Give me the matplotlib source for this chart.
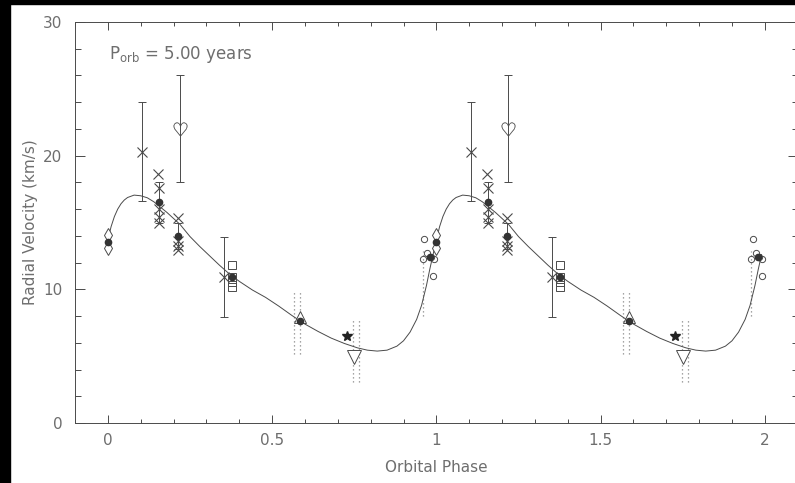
import matplotlib
matplotlib.use("Agg")
import matplotlib.pyplot as plt
from matplotlib.patches import Rectangle
from matplotlib.ticker import MultipleLocator

# orbit fit, one cycle (phase, km/s)
fit_phase = [0.00, 0.01, 0.02, 0.03, 0.04, 0.05, 0.06, 0.08, 0.10, 0.12,
             0.14, 0.16, 0.18, 0.20, 0.22, 0.25, 0.28, 0.31, 0.34, 0.37,
             0.40, 0.44, 0.48, 0.52, 0.56, 0.60, 0.64, 0.68, 0.72, 0.76,
             0.79, 0.82, 0.85, 0.88, 0.90, 0.92, 0.94, 0.955, 0.97, 0.98,
             0.99, 1.00]
fit_rv = [13.7, 14.7, 15.45, 16.0, 16.4, 16.68, 16.87, 17.05, 17.0, 16.85,
          16.55, 16.15, 15.75, 15.3, 14.85, 13.95, 13.2, 12.5, 11.8, 11.15,
          10.6, 9.95, 9.4, 8.75, 8.05, 7.4, 6.85, 6.35, 5.95, 5.62,
          5.45, 5.38, 5.45, 5.75, 6.15, 6.8, 7.75, 8.8, 10.3, 11.5,
          12.6, 13.7]

# observations by instrument
cross_phase = [0.104, 0.153, 0.156, 0.156, 0.156, 0.156, 0.214, 0.214, 0.214, 0.214, 0.353]
cross_rv = [20.3, 18.6, 17.6, 16.0, 15.4, 15.0, 15.3, 13.6, 13.25, 12.95, 10.95]
cross_err = [3.7, 0, 0, 0, 0, 0, 0, 0, 0, 0, 3.0]

heart_phase = [0.219]
heart_rv = [22.0]
heart_err = [4.0]

diamond_phase = [0.0, 0.0]
diamond_rv = [14.06, 13.06]

square_phase = [0.377, 0.377, 0.377, 0.377]
square_rv = [11.8, 10.95, 10.55, 10.2]

tri_up_phase = [0.586]
tri_up_rv = [7.9]

tri_down_phase = [0.750]
tri_down_rv = [4.96]

star_phase = [0.728]
star_rv = [6.5]

circle_phase = [0.963, 0.972, 0.958, 0.983, 0.992, 0.990]
circle_rv = [13.8, 12.7, 12.3, 12.4, 12.25, 11.0]

# binned means
mean_phase = [0.0, 0.156, 0.214, 0.377, 0.586, 0.980]
mean_rv = [13.56, 16.5, 14.0, 10.95, 7.65, 12.4]
mean_err = [0, 1.5, 1.0, 0, 0, 0]

# dotted velocity ranges (phase, low, high)
range_phase = [0.567, 0.586, 0.747, 0.765, 0.958]
range_lo = [5.15, 5.15, 3.1, 3.1, 8.0]
range_hi = [9.95, 9.95, 7.8, 7.8, 12.9]

ink = "#4a4a4a"
txt = "#6e6e6e"
plt.rcParams["font.family"] = ["DejaVu Sans"]

fig = plt.figure(figsize=(7.95, 4.83), dpi=100)
ax = fig.add_axes([75 / 795, 1 - 423 / 483, 722.7 / 795, 401 / 483])


def two_cycles(ph):
    return list(ph) + [p + 1 for p in ph]


def twice(vals):
    return list(vals) * 2


# fitted curve over two cycles, stopping just short of phase 2
curve_x = fit_phase + [p + 1 for p in fit_phase[1:-1]]
curve_y = fit_rv + fit_rv[1:-1]
ax.plot(curve_x, curve_y, color=ink, lw=0.7, zorder=2)

ax.vlines(two_cycles(range_phase), twice(range_lo), twice(range_hi),
          colors="#888888", linestyles=(0, (1, 2.2)), lw=0.9, zorder=1)

for ph, rv, err in zip(two_cycles(cross_phase), twice(cross_rv), twice(cross_err)):
    if err:
        ax.errorbar(ph, rv, yerr=err, fmt="none", ecolor=ink, elinewidth=0.7,
                    capsize=3, capthick=0.7, zorder=2)
ax.errorbar(two_cycles(heart_phase), twice(heart_rv), yerr=twice(heart_err),
            fmt="none", ecolor=ink, elinewidth=0.7, capsize=3, capthick=0.7)
for ph, rv, err in zip(two_cycles(mean_phase), twice(mean_rv), twice(mean_err)):
    if err:
        ax.errorbar(ph, rv, yerr=err, fmt="none", ecolor=ink, elinewidth=0.7,
                    capsize=3, capthick=0.7, zorder=2)

ax.plot(two_cycles(cross_phase), twice(cross_rv), "x", color=ink, ms=7, mew=0.8, ls="none")
ax.plot(two_cycles(heart_phase), twice(heart_rv), ls="none", marker=r"$\heartsuit$",
        color=ink, ms=10, mew=0.2)
ax.plot(two_cycles(diamond_phase), twice(diamond_rv), "d", mfc="white", mec=ink,
        ms=7, mew=0.7, ls="none")
ax.plot(two_cycles(square_phase), twice(square_rv), "s", mfc="none", mec=ink,
        ms=6, mew=0.7, ls="none")
ax.plot(two_cycles(tri_up_phase), twice(tri_up_rv), "^", mfc="white", mec=ink,
        ms=9, mew=0.7, ls="none")
ax.plot(two_cycles(tri_down_phase), twice(tri_down_rv), "v", mfc="white", mec=ink,
        ms=10, mew=0.7, ls="none")
ax.plot(two_cycles(star_phase), twice(star_rv), "*", color="#222222", ms=7, ls="none")
ax.plot(two_cycles(circle_phase), twice(circle_rv), "o", mfc="none", mec=ink,
        ms=4.5, mew=0.7, ls="none")
ax.plot(two_cycles(mean_phase), twice(mean_rv), "o", color="#333333", mec="#333333",
        ms=4.5, ls="none", zorder=4)

ax.set_xlim(-0.1, 2.1)
ax.set_ylim(0, 30)
ax.xaxis.set_minor_locator(MultipleLocator(0.1))
ax.yaxis.set_minor_locator(MultipleLocator(2))
ax.set_xticks([0, 0.5, 1, 1.5, 2])
ax.set_xticklabels(["0", "0.5", "1", "1.5", "2"])
ax.set_yticks([0, 10, 20, 30])
ax.set_yticklabels(["0", "10", "20", "30"])

ax.tick_params(axis="both", which="both", direction="in", top=True, right=True,
               color=ink, width=0.7, labelcolor=txt, labelsize=11)
ax.tick_params(axis="x", which="major", length=6, pad=7)
ax.tick_params(axis="x", which="minor", length=3)
ax.tick_params(axis="y", which="major", length=7, pad=9)
ax.tick_params(axis="y", which="minor", length=4.3)
for sp in ax.spines.values():
    sp.set_color(ink)
    sp.set_linewidth(0.7)

ax.set_xlabel("Orbital Phase", color=txt, fontsize=11, labelpad=9)
ax.set_ylabel("Radial Velocity (km/s)", color=txt, fontsize=11, labelpad=4)

ax.text(0.003, 27.2, r"P$_{\rm orb}$ = 5.00 years", color=txt, fontsize=12,
        ha="left", va="baseline")

# dark frame along the top and left edges
fig.patches.append(Rectangle((0, 0), 10 / 795, 1, transform=fig.transFigure,
                             color="black", zorder=10))
fig.patches.append(Rectangle((0, 1 - 4 / 483), 1, 4 / 483, transform=fig.transFigure,
                             color="black", zorder=10))

fig.savefig("out.png", dpi=100)
